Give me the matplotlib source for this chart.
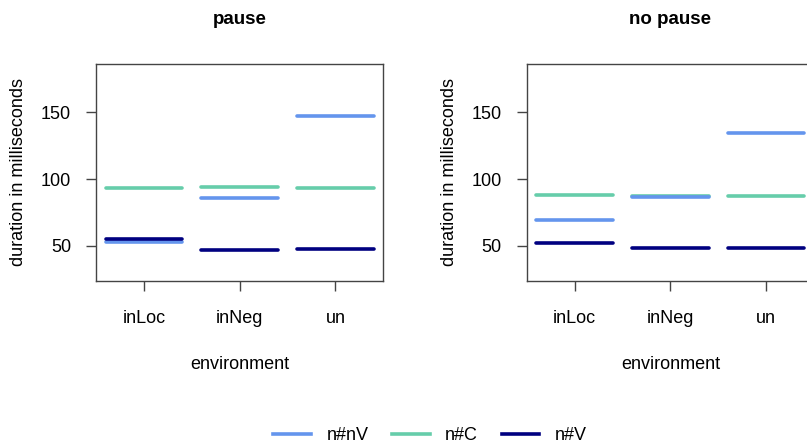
import matplotlib.pyplot as plt
from matplotlib.lines import Line2D

plt.rcParams['font.family'] = ['Liberation Sans', 'DejaVu Sans']

environments = ["inLoc", "inNeg", "un"]
panels = ["pause", "no pause"]
series = ["n#nV", "n#C", "n#V"]
colors = {"n#nV": "#6495ED", "n#C": "#66CDAA", "n#V": "#000080"}

# mean durations (ms) per panel, per series, per environment
pause_vals = {
    "n#nV": [52.7, 85.8, 147.0],
    "n#C": [93.3, 93.8, 93.0],
    "n#V": [55.2, 47.2, 48.0],
}
nopause_vals = {
    "n#nV": [69.2, 86.6, 134.3],
    "n#C": [88.3, 87.6, 87.6],
    "n#V": [51.9, 48.5, 48.5],
}
panel_vals = [pause_vals, nopause_vals]
draw_order = ["n#C", "n#nV", "n#V"]

fig = plt.figure(figsize=(8.07, 4.45), dpi=100)
lefts = [96 / 807, 526.7 / 807]
w = 287.3 / 807
b = 1 - 280.7 / 445
h = (280.7 - 64) / 445
edge = "#444444"

for k in range(2):
    ax = fig.add_axes([lefts[k], b, w, h])
    vals = panel_vals[k]
    for s in draw_order:
        for i, v in enumerate(vals[s]):
            x = i + 1
            ax.plot([x - 0.4, x + 0.4], [v, v], color=colors[s], lw=2.6,
                    solid_capstyle="round")
    ax.set_xlim(0.5, 3.5)
    ax.set_ylim(24, 186)
    ax.set_xticks([1, 2, 3])
    ax.set_xticklabels(environments)
    ax.set_yticks([50, 100, 150])
    ax.tick_params(labelsize=13, length=7, width=1, color=edge)
    ax.tick_params(axis="x", pad=14)
    ax.tick_params(axis="y", pad=11)
    for sp in ax.spines.values():
        sp.set_color(edge)
        sp.set_linewidth(1)
    ax.set_xlabel("environment", fontsize=13, labelpad=21)
    ax.set_ylabel("duration in milliseconds", fontsize=13, labelpad=10)
    ax.set_title(panels[k], fontsize=13.5, fontweight="bold", pad=29)

handles = [Line2D([], [], color=colors[s], lw=2.6) for s in series]
fig.legend(handles, series, loc="center", bbox_to_anchor=(430 / 807, 1 - 436 / 445),
           ncol=3, frameon=False, fontsize=13, handlelength=2.1,
           handletextpad=0.85, columnspacing=1.3)

fig.savefig("out.png", dpi=100)
